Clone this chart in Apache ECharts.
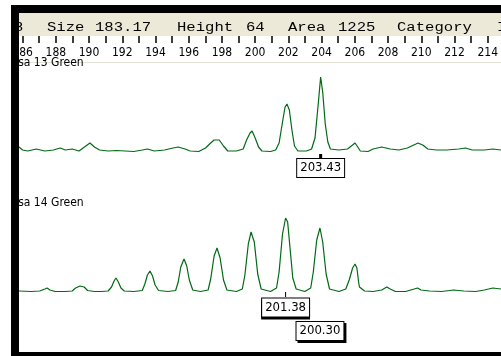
<!DOCTYPE html>
<html>
<head>
<meta charset="utf-8">
<script src="https://cdn.jsdelivr.net/npm/echarts@6/dist/echarts.min.js"></script>
<style>
  html, body { margin: 0; padding: 0; background: #fff; }
  #chart { width: 501px; height: 356px; }
</style>
</head>
<body>
<div id="chart"></div>
<script>
// Size ruler (bp)
const rulerMin = 186;
const rulerMax = 214;
const rulerStep = 2;

// Header fields of the selected peak
const headerWords = ['8', 'Size', '183.17', 'Height', '64', 'Area', '1225', 'Category', 'I'];

// Sample names
const sampleNames = ['Isa 13 Green', 'Isa 14 Green'];

// Trace of sample 13: [size bp, signal]
const isa13 = [
  [185.79, 5], [186.0, 2], [186.3, 1], [186.8, 3], [187.3, 1], [187.8, 2], [188.2, 4], [188.5, 2],
  [188.9, 3], [189.3, 1], [189.7, 6], [189.94, 9], [190.2, 5], [190.5, 2], [191.0, 1], [191.5, 1.5],
  [192.0, 1], [192.5, 0.5], [193.0, 2], [193.3, 3], [193.7, 1], [194.3, 2], [194.8, 4], [195.1, 5],
  [195.5, 3], [195.8, 1], [196.3, 0.5], [196.7, 4], [197.0, 9], [197.2, 12], [197.5, 12], [197.75, 6],
  [198.0, 1], [198.5, 1], [198.9, 3], [199.1, 12], [199.3, 19], [199.42, 21], [199.6, 14], [199.8, 5],
  [200.0, 1], [200.5, 0.5], [200.8, 2], [201.0, 9], [201.2, 30], [201.35, 45], [201.46, 48], [201.6, 42],
  [201.75, 22], [201.9, 6], [202.1, 1], [202.6, 1], [202.9, 3], [203.1, 14], [203.3, 50], [203.43, 75],
  [203.55, 60], [203.7, 28], [203.85, 10], [204.0, 3], [204.5, 2], [205.0, 3], [205.3, 7], [205.44, 9],
  [205.6, 5], [205.75, 1], [206.2, 0.5], [206.5, 3], [207.0, 5], [207.5, 3], [208.0, 2], [208.5, 4],
  [209.0, 8], [209.12, 9], [209.4, 7], [209.7, 3], [210.2, 2], [210.8, 2], [211.5, 3], [211.9, 4],
  [212.3, 2], [213.0, 2], [213.5, 3], [213.98, 2]
];

// Trace of sample 14: [size bp, signal]
const isa14 = [
  [185.79, 1], [186.5, 0.5], [187.0, 1], [187.3, 3], [187.43, 4], [187.6, 2], [187.9, 0.5], [188.5, 0.5],
  [188.9, 1], [189.1, 4], [189.36, 6], [189.6, 5], [189.8, 1.5], [190.2, 0.5], [190.6, 0.5], [191.0, 1],
  [191.2, 5], [191.35, 11], [191.46, 14], [191.6, 10], [191.75, 4], [191.95, 1], [192.5, 0.5], [193.0, 1.5],
  [193.15, 8], [193.3, 17], [193.45, 21], [193.6, 16], [193.75, 7], [193.95, 1.5], [194.5, 0.5], [194.95, 1.5],
  [195.1, 10], [195.25, 25], [195.44, 33], [195.6, 26], [195.75, 12], [195.95, 2], [196.4, 0.5], [196.85, 2],
  [197.0, 13], [197.2, 36], [197.37, 44], [197.55, 34], [197.75, 12], [197.95, 2], [198.5, 0.5], [198.85, 3],
  [199.0, 17], [199.2, 48], [199.36, 60], [199.55, 50], [199.75, 18], [199.95, 3], [200.5, 0.5], [200.85, 4],
  [201.0, 20], [201.2, 58], [201.38, 74], [201.5, 70], [201.65, 42], [201.8, 14], [202.0, 3], [202.5, 0.5],
  [202.85, 4], [203.0, 20], [203.2, 52], [203.39, 64], [203.55, 50], [203.75, 18], [203.95, 3], [204.5, 0.5],
  [204.9, 3], [205.1, 12], [205.3, 24], [205.44, 28], [205.55, 24], [205.65, 10], [205.7, 5], [206.0, 1],
  [206.5, 0.5], [207.0, 2], [207.3, 5], [207.5, 3], [207.8, 0.5], [208.4, 0.5], [208.9, 3], [209.1, 4],
  [209.3, 2], [209.8, 1], [210.5, 0.5], [211.2, 2], [211.8, 1], [212.5, 0.5], [213.0, 2], [213.5, 4],
  [213.98, 3]
];

// Peak call labels: [size bp, text]
const peaks13 = [[203.43, '203.43']];
const peaks14 = [[201.38, '201.38'], [203.39, '200.30']];

const traceColor = '#006a14';
const narrowFont = "'Liberation Sans Narrow', 'DejaVu Sans Condensed', sans-serif";

const chart = echarts.init(document.getElementById('chart'), null, { renderer: 'canvas' });

function peakBox(p, dy, shadowX, shadowY) {
  return {
    coord: [p[0], 0],
    symbol: 'rect',
    symbolSize: 0,
    label: {
      show: true,
      formatter: p[1],
      position: 'inside',
      offset: [0, dy],
      fontFamily: narrowFont,
      fontSize: 13,
      color: '#000',
      backgroundColor: '#fff',
      borderColor: '#000',
      borderWidth: 1,
      padding: [3, 3, 2, 3],
      shadowColor: '#000',
      shadowBlur: 0,
      shadowOffsetX: shadowX,
      shadowOffsetY: shadowY
    }
  };
}

function tickMark(p, w, h, dy) {
  return {
    coord: [p[0], 0],
    symbol: 'rect',
    symbolSize: [w, h],
    symbolOffset: [0, dy],
    itemStyle: { color: '#000' },
    label: { show: false }
  };
}

const dataAxis = (gridIndex) => ({
  type: 'value', gridIndex, min: 185.79, max: 213.977,
  show: false
});
const signalAxis = (gridIndex) => ({
  type: 'value', gridIndex, min: -8, max: 82, show: false
});

const option = {
  animation: false,
  backgroundColor: '#fff',
  grid: [
    { left: 22.6, width: 478.8, top: 20, height: 16 },
    { left: 19, width: 482, top: 70, height: 90 },
    { left: 19, width: 482, top: 210, height: 90 }
  ],
  xAxis: [
    {
      type: 'value', gridIndex: 0, position: 'bottom',
      min: rulerMin, max: rulerMax, interval: rulerStep,
      axisLine: { show: false },
      axisTick: { show: true, inside: false, length: 7, lineStyle: { color: '#000', width: 1.5 } },
      minorTick: { show: true, splitNumber: 2, length: 7, lineStyle: { color: '#000', width: 1.5 } },
      axisLabel: {
        show: true, margin: 11, color: '#000',
        fontFamily: narrowFont, fontSize: 12,
        showMinLabel: true, showMaxLabel: true
      },
      splitLine: { show: false }
    },
    dataAxis(1),
    dataAxis(2)
  ],
  yAxis: [
    { type: 'value', gridIndex: 0, show: false },
    signalAxis(1),
    signalAxis(2)
  ],
  series: [
    {
      name: sampleNames[0], type: 'line', xAxisIndex: 1, yAxisIndex: 1,
      data: isa13, showSymbol: false, smooth: false,
      lineStyle: { color: traceColor, width: 1.2 },
      markPoint: {
        silent: true,
        data: peaks13.map(p => tickMark(p, 3, 5, 4.5)).concat(peaks13.map(p => peakBox(p, 16, 0, 0)))
      }
    },
    {
      name: sampleNames[1], type: 'line', xAxisIndex: 2, yAxisIndex: 2,
      data: isa14, showSymbol: false, smooth: false,
      lineStyle: { color: traceColor, width: 1.2 },
      markPoint: {
        silent: true,
        data: [
          tickMark(peaks14[0], 1, 5, 2.5),
          peakBox(peaks14[0], 15.5, 0, 2),
          peakBox(peaks14[1], 39, 2, 2)
        ]
      }
    }
  ],
  graphic: {
    elements: [
      // header strip
      { type: 'rect', shape: { x: 19, y: 13, width: 482, height: 23 }, style: { fill: '#ece9d8' }, z: 1 },
      // separator under the ruler
      { type: 'line', shape: { x1: 19, y1: 62.5, x2: 501, y2: 62.5 }, style: { stroke: '#e4e2d6', lineWidth: 1 }, z: 1 },
      // header words
      ...headerWords.map((w, i) => ({
        type: 'text',
        x: [14, 47, 95, 177, 246, 288, 338, 397, 497][i],
        y: 27.5,
        scaleX: 1.3,
        z: 5,
        style: { text: w, font: "12px 'Liberation Mono', 'DejaVu Sans Mono', monospace", fill: '#000', verticalAlign: 'middle' }
      })),
      // sample names
      { type: 'text', x: 15, y: 62.5, z: 5, style: { text: sampleNames[0], font: '12px ' + narrowFont, fill: '#000', verticalAlign: 'middle' } },
      { type: 'text', x: 15, y: 202.5, z: 5, style: { text: sampleNames[1], font: '12px ' + narrowFont, fill: '#000', verticalAlign: 'middle' } },
      // window frame
      { type: 'rect', shape: { x: 11, y: 5, width: 8, height: 351 }, style: { fill: '#000' }, z: 50 },
      { type: 'rect', shape: { x: 11, y: 5, width: 490, height: 8 }, style: { fill: '#000' }, z: 50 },
      { type: 'rect', shape: { x: 11, y: 352, width: 490, height: 4 }, style: { fill: '#000' }, z: 50 }
    ]
  }
};

chart.setOption(option);
</script>
</body>
</html>
